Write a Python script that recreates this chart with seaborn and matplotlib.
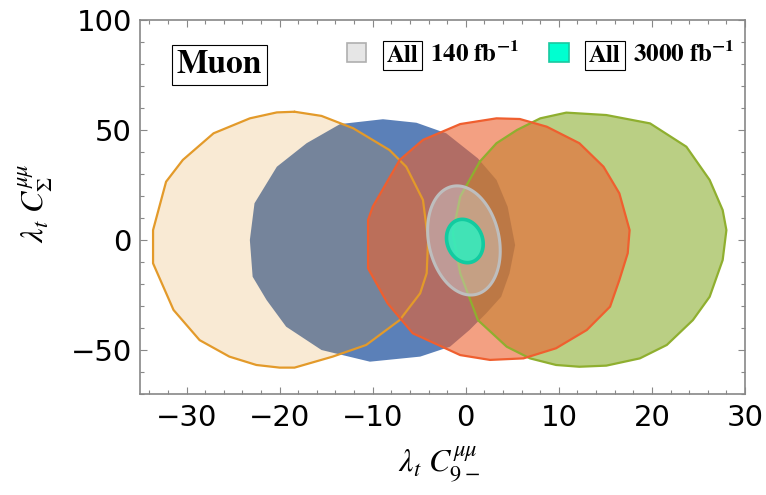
import numpy as np
import matplotlib
import matplotlib.pyplot as plt
import seaborn as sns
from matplotlib.colors import to_rgba
from matplotlib.patches import Rectangle
from matplotlib.ticker import MultipleLocator

matplotlib.use('Agg')

# Allowed regions (boundary vertices)
orange_x = [-18.4, -15.5, -12.1, -8.2, -6.4, -4.6, -4.05, -4.2, -4.9, -7.1, -10.7, -14.3,
            -18.4, -20.0, -22.5, -25.4, -28.6, -31.4, -33.6, -33.6, -32.2, -30.4, -27.1, -23.2, -20.3]
orange_y = [58.3, 56.4, 50.8, 40.9, 33.3, 18.2, 0.0, -15.1, -24.2, -36.4, -47.7, -53.0,
            -58.0, -58.0, -56.8, -53.0, -45.5, -31.8, -10.6, 4.5, 26.5, 36.4, 48.5, 55.3, 58.0]

blue_x = [-23.2, -22.7, -20.3, -17.1, -13.5, -8.9, -5.3, -2.1, 1.3, 3.3, 4.5, 5.3, 4.7,
          3.8, 2.2, 0.4, -1.7, -4.9, -10.3, -15.5, -19.3, -21.4, -22.9]
blue_y = [0.0, 16.7, 33.3, 44.0, 52.7, 54.9, 53.3, 48.5, 37.1, 27.3, 15.1, -2.3, -15.1,
          -25.8, -33.3, -40.9, -48.5, -53.0, -55.3, -50.0, -39.4, -27.3, -16.7]

red_x = [-10.5, -10.0, -7.1, -4.6, -0.6, 3.3, 5.8, 8.7, 12.2, 14.8, 16.5, 17.6, 17.4,
         16.5, 15.5, 13.0, 9.7, 6.2, 2.6, -0.6, -5.7, -8.4, -10.5]
red_y = [9.1, 15.1, 36.4, 45.5, 52.7, 55.3, 55.0, 51.5, 44.0, 33.3, 21.2, 4.5, -6.0,
         -18.2, -30.3, -40.9, -49.2, -53.8, -54.5, -52.3, -42.4, -28.8, -12.9]

green_x = [1.5, -0.6, -1.4, -0.6, 1.3, 4.4, 6.9, 9.7, 12.2, 15.1, 18.7, 21.6, 24.4,
           26.2, 27.6, 28.0, 27.6, 26.2, 23.7, 19.8, 15.1, 10.8, 8.0, 5.5, 3.3]
green_y = [35.6, 19.7, 3.0, -15.1, -36.4, -48.5, -53.8, -56.8, -57.6, -57.1, -53.8, -47.7, -36.4,
           -25.8, -9.1, 4.5, 13.6, 27.3, 42.4, 53.0, 56.8, 57.9, 55.3, 50.0, 44.0]

# Global fit ellipses: centre, half widths, phase between x and y
ell_140 = dict(cx=-0.2, cy=-0.2, sx=3.9, sy=24.8, phase=1.762)
ell_3000 = dict(cx=-0.1, cy=-0.45, sx=1.97, sy=9.85, phase=1.711)

sns.set_theme(style='ticks')
plt.rcParams['mathtext.fontset'] = 'stix'
plt.rcParams['font.family'] = ['DejaVu Sans']
plt.rcParams['text.color'] = 'black'
plt.rcParams['axes.labelcolor'] = 'black'

fig = plt.figure(figsize=(7.66, 4.95), dpi=100)
ax = fig.add_axes([0.1828, 0.2040, 0.7898, 0.7556])


def draw_region(xs, ys, color, alpha, edge=None, lw=1.6):
    ax.fill(xs, ys, facecolor=to_rgba(color, alpha), edgecolor='none', zorder=2)
    if edge is not None:
        sns.lineplot(x=list(xs) + [xs[0]], y=list(ys) + [ys[0]], sort=False,
                     estimator=None, errorbar=None, ax=ax, color=edge, lw=lw, zorder=3)


def ellipse(p):
    t = np.linspace(0, 2 * np.pi, 200)
    return p['cx'] + p['sx'] * np.cos(t), p['cy'] + p['sy'] * np.cos(t + p['phase'])


draw_region(blue_x, blue_y, '#5B80B8', 1.0)
draw_region(orange_x, orange_y, '#E19628', 0.2, edge='#E39A2A')
draw_region(green_x, green_y, '#8CAF32', 0.6, edge='#8FAF2F')
draw_region(red_x, red_y, '#EB612F', 0.6, edge='#EF5F2F')

gx, gy = ellipse(ell_140)
ax.fill(gx, gy, facecolor=to_rgba('#D2D2D2', 0.45), edgecolor='#BEBEBE', lw=2.2, zorder=4)
cx, cy = ellipse(ell_3000)
ax.fill(cx, cy, facecolor=to_rgba('#2AF0C0', 0.85), edgecolor='#12CBA0', lw=2.6, zorder=5)

ax.set_xlim(-35, 30)
ax.set_ylim(-70, 100)
ax.xaxis.set_major_locator(MultipleLocator(10))
ax.xaxis.set_minor_locator(MultipleLocator(2))
ax.yaxis.set_major_locator(MultipleLocator(50))
ax.yaxis.set_minor_locator(MultipleLocator(10))
ax.tick_params(which='both', direction='in', top=True, right=True, color='#888888',
               width=0.8, labelsize=21, labelcolor='black')
ax.tick_params(which='major', length=5)
ax.tick_params(which='minor', length=3)
ax.tick_params(axis='x', pad=7)
ax.tick_params(axis='y', pad=6)
for s in ax.spines.values():
    s.set_color('#888888')
    s.set_linewidth(1.2)

ax.set_xlabel(r'$\lambda_t\ C_{9-}^{\mu\mu}$', fontsize=23)
ax.set_ylabel(r'$\lambda_t\ C_{\Sigma}^{\mu\mu}$', fontsize=23)
ax.xaxis.set_label_coords(0.495, -0.135)
ax.yaxis.set_label_coords(-0.14, 0.51)

# Labels and legend
box = dict(boxstyle='square,pad=0.15', fc='white', ec='black', lw=0.8)
ax.text(0.131, 0.8575, 'Muon', transform=ax.transAxes, ha='center', va='baseline',
        fontsize=24, fontfamily='STIXGeneral', fontweight='bold', bbox=box, zorder=6)

legend_entries = [('#E6E6E6', '#AFAFAF', r'$\mathbf{140\ fb^{-1}}$', 0.3417),
                  ('#00FFD0', '#19C8A0', r'$\mathbf{3000\ fb^{-1}}$', 0.6765)]
for face, edge, label, x0 in legend_entries:
    ax.add_patch(Rectangle((x0, 0.8885), 0.0319, 0.0508, transform=ax.transAxes,
                           facecolor=face, edgecolor=edge, lw=1.2, zorder=6))
    ax.text(x0 + 0.0922, 0.8885, 'All', transform=ax.transAxes, ha='center', va='baseline',
            fontsize=18, fontfamily='STIXGeneral', fontweight='bold', bbox=box, zorder=6)
    ax.text(x0 + 0.1376, 0.8885, label, transform=ax.transAxes, ha='left', va='baseline',
            fontsize=18, zorder=6)

fig.savefig('out.png', dpi=100)
